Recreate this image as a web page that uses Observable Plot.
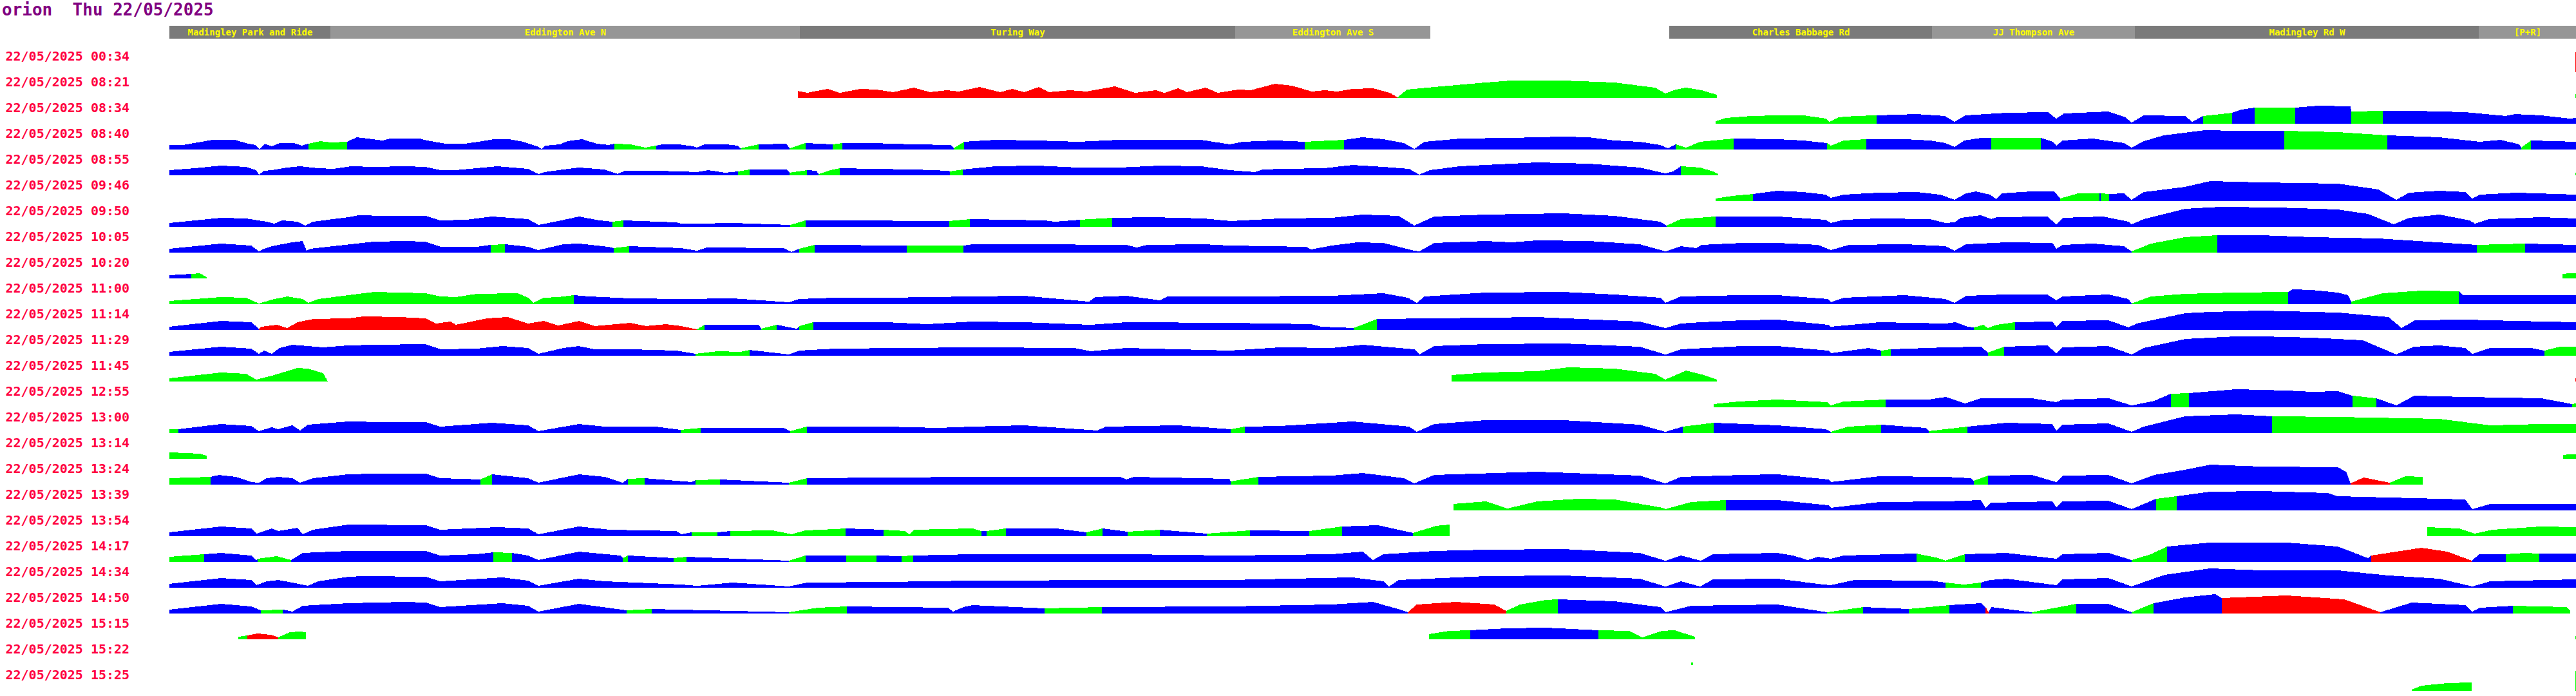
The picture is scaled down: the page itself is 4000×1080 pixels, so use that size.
<!DOCTYPE html>
<html><head><meta charset="utf-8">
<script src="https://cdn.jsdelivr.net/npm/d3@7"></script>
<script src="https://cdn.jsdelivr.net/npm/@observablehq/plot@0.6"></script>
<style>
body{margin:0;background:#fff;width:4000px;}
#title{height:40px;font:bold 26px/30px "DejaVu Sans Mono",monospace;color:#800080;white-space:pre;padding-left:3px;}
svg{display:block}
</style></head><body>
<div id="title">orion  Thu 22/05/2025</div>
<div id="header"></div>
<div id="chart"></div>
<script>
// ---- header: road sections along the route (distance units) ----
const roadNames = ["Madingley Park and Ride","Eddington Ave N","Turing Way","Eddington Ave S","Charles Babbage Rd","JJ Thompson Ave","Madingley Rd W","[P+R]"];
const roadStart = [263,513,1242,1918,2592,3000,3315,3849];
const roadEnd   = [513,1242,1918,2221,3000,3315,3849,4000];
const roadShade = ["#7a7a7a","#969696","#7a7a7a","#969696","#7a7a7a","#969696","#7a7a7a","#969696"];

// ---- journey start times ----
const labels = ["22/05/2025 00:34","22/05/2025 08:21","22/05/2025 08:34","22/05/2025 08:40","22/05/2025 08:55","22/05/2025 09:46","22/05/2025 09:50","22/05/2025 10:05","22/05/2025 10:20","22/05/2025 11:00","22/05/2025 11:14","22/05/2025 11:29","22/05/2025 11:45","22/05/2025 12:55","22/05/2025 13:00","22/05/2025 13:14","22/05/2025 13:24","22/05/2025 13:39","22/05/2025 13:54","22/05/2025 14:17","22/05/2025 14:34","22/05/2025 14:50","22/05/2025 15:15","22/05/2025 15:22","22/05/2025 15:25"];

// ---- profiles: [distance, value, status of the stretch that starts here] ----
const r0034 = [[3999,31,"r"],[4000,31,""]];
const r0821 = [[1239,11,"r"],[1253,8,"r"],[1285,14,"r"],[1304,8,"r"],[1336,14,"r"],[1361,13,"r"],[1387,9,"r"],[1419,16,"r"],[1444,9,"r"],[1470,12,"r"],[1489,10,"r"],[1521,17,"r"],[1553,9,"r"],[1572,14,"r"],[1591,9,"r"],[1613,17,"r"],[1629,9,"r"],[1661,12,"r"],[1687,10,"r"],[1731,18,"r"],[1763,8,"r"],[1795,12,"r"],[1808,8,"r"],[1830,15,"r"],[1843,9,"r"],[1872,16,"r"],[1891,8,"r"],[1923,13,"r"],[1942,12,"r"],[1980,22,"r"],[2006,19,"r"],[2037,10,"r"],[2057,12,"r"],[2076,10,"r"],[2100,14,"r"],[2132,15,"r"],[2158,8,"r"],[2170,1,"g"],[2185,13,"g"],[2227,17,"g"],[2307,24,"g"],[2347,27,"g"],[2427,27,"g"],[2507,24,"g"],[2570,16,"g"],[2586,7,"g"],[2602,13,"g"],[2618,16,"g"],[2642,12,"g"],[2666,5,""],[3999,6,"g"],[4000,6,""]];
const r0834 = [[2664,4,"g"],[2680,9,"g"],[2720,12,"g"],[2760,13,"g"],[2800,13,"g"],[2835,8,"g"],[2841,3,"g"],[2855,10,"g"],[2880,12,"g"],[2914,13,"b"],[2976,15,"b"],[3020,12,"b"],[3035,3,"b"],[3052,13,"b"],[3116,17,"b"],[3180,18,"b"],[3193,8,"b"],[3205,16,"b"],[3274,19,"b"],[3300,10,"b"],[3310,2,"b"],[3329,13,"b"],[3393,12,"b"],[3404,3,"b"],[3421,12,"g"],[3466,17,"b"],[3480,22,"b"],[3501,25,"g"],[3564,25,"b"],[3600,28,"b"],[3650,27,"b"],[3651,19,"g"],[3700,20,"b"],[3749,20,"b"],[3828,18,"b"],[3891,12,"b"],[3905,15,"b"],[3946,13,"b"],[3990,8,"b"],[4000,9,""]];
const r0840 = [[263,7,"b"],[284,7,"b"],[307,11,"b"],[330,15,"b"],[365,15,"b"],[382,10,"b"],[396,7,"b"],[403,0,"b"],[411,9,"b"],[422,5,"b"],[434,10,"b"],[457,10,"b"],[468,6,"b"],[479,9,"g"],[497,13,"g"],[514,11,"g"],[539,12,"b"],[554,19,"b"],[571,17,"b"],[594,14,"b"],[606,17,"b"],[652,17,"b"],[663,14,"b"],[692,9,"b"],[721,9,"b"],[749,13,"b"],[767,16,"b"],[790,16,"b"],[813,12,"b"],[836,4,"b"],[841,1,"b"],[847,6,"b"],[870,8,"b"],[881,13,"b"],[904,16,"b"],[927,9,"b"],[945,7,"b"],[954,9,"g"],[979,8,"g"],[1002,3,"g"],[1019,6,"b"],[1028,8,"b"],[1054,8,"b"],[1077,5,"b"],[1082,3,"b"],[1094,8,"b"],[1128,8,"b"],[1145,6,"b"],[1150,2,"g"],[1178,8,"b"],[1221,9,"b"],[1226,2,"g"],[1251,10,"b"],[1293,8,"g"],[1308,10,"b"],[1355,10,"b"],[1419,8,"b"],[1476,7,"b"],[1481,2,"g"],[1497,12,"b"],[1546,15,"b"],[1610,14,"b"],[1674,12,"b"],[1738,15,"b"],[1802,15,"b"],[1865,15,"b"],[1910,8,"b"],[1929,12,"b"],[1980,14,"b"],[2026,12,"g"],[2087,15,"b"],[2116,19,"b"],[2148,16,"b"],[2180,10,"b"],[2196,1,"b"],[2212,12,"b"],[2267,17,"b"],[2347,18,"b"],[2427,20,"b"],[2467,19,"b"],[2507,14,"b"],[2546,12,"b"],[2578,7,"b"],[2590,2,"b"],[2602,8,"g"],[2618,3,"g"],[2640,12,"g"],[2692,17,"b"],[2760,16,"b"],[2800,14,"b"],[2837,10,"g"],[2843,6,"g"],[2863,14,"g"],[2898,16,"b"],[2958,16,"b"],[2997,14,"b"],[3021,10,"b"],[3035,4,"b"],[3050,14,"b"],[3076,18,"b"],[3092,18,"g"],[3169,18,"b"],[3187,12,"b"],[3193,6,"b"],[3203,14,"b"],[3250,17,"b"],[3298,10,"b"],[3310,3,"b"],[3329,13,"b"],[3360,22,"b"],[3424,30,"b"],[3472,29,"b"],[3547,29,"g"],[3630,27,"g"],[3707,22,"b"],[3788,19,"b"],[3850,12,"b"],[3883,15,"b"],[3912,8,"b"],[3915,3,"g"],[3930,14,"b"],[4000,12,""]];
const r0855 = [[263,8,"b"],[303,11,"b"],[343,15,"b"],[382,13,"b"],[398,8,"b"],[402,1,"b"],[410,7,"b"],[422,8,"b"],[446,12,"b"],[466,14,"b"],[494,11,"b"],[517,10,"b"],[545,14,"b"],[581,13,"b"],[629,14,"b"],[661,13,"b"],[684,8,"b"],[708,8,"b"],[740,11,"b"],[772,14,"b"],[820,10,"b"],[836,2,"b"],[845,5,"b"],[875,9,"b"],[899,12,"b"],[939,9,"b"],[959,2,"b"],[970,7,"b"],[1018,7,"b"],[1058,6,"b"],[1082,5,"b"],[1100,8,"b"],[1126,4,"b"],[1146,6,"g"],[1164,9,"b"],[1221,9,"b"],[1226,4,"g"],[1253,8,"b"],[1268,7,"b"],[1271,2,"g"],[1290,8,"g"],[1304,11,"b"],[1355,10,"b"],[1419,9,"b"],[1473,7,"b"],[1475,6,"g"],[1495,9,"b"],[1546,14,"b"],[1610,15,"b"],[1674,12,"b"],[1738,12,"b"],[1802,15,"b"],[1865,14,"b"],[1910,8,"b"],[1948,5,"b"],[1960,9,"b"],[1993,10,"b"],[2057,11,"b"],[2100,16,"b"],[2148,13,"b"],[2188,10,"b"],[2204,1,"b"],[2220,8,"b"],[2267,14,"b"],[2387,20,"b"],[2467,18,"b"],[2546,12,"b"],[2586,3,"b"],[2598,6,"b"],[2610,14,"g"],[2640,12,"g"],[2660,6,"g"],[2668,2,""],[3999,4,"g"],[4000,4,""]];
const r0946 = [[2664,4,"g"],[2690,8,"g"],[2722,11,"b"],[2760,16,"b"],[2800,14,"b"],[2835,10,"b"],[2843,5,"b"],[2863,10,"b"],[2918,13,"b"],[2976,14,"b"],[3013,10,"b"],[3035,2,"b"],[3053,12,"b"],[3068,15,"b"],[3090,10,"b"],[3100,3,"b"],[3108,12,"b"],[3155,15,"b"],[3190,15,"b"],[3199,4,"g"],[3227,12,"g"],[3260,12,"b"],[3262,12,"g"],[3275,11,"b"],[3298,12,"b"],[3310,2,"b"],[3329,14,"b"],[3393,22,"b"],[3432,31,"b"],[3511,29,"b"],[3630,27,"b"],[3693,18,"b"],[3721,2,"b"],[3741,13,"b"],[3788,16,"b"],[3828,14,"b"],[3839,4,"b"],[3851,10,"b"],[3907,13,"b"],[4000,10,""]];
const r0950 = [[263,6,"b"],[343,14,"b"],[382,13,"b"],[414,8,"b"],[426,5,"b"],[438,10,"b"],[462,8,"b"],[474,2,"b"],[486,8,"b"],[541,15,"b"],[557,18,"b"],[597,17,"b"],[661,17,"b"],[684,10,"b"],[724,11,"b"],[764,16,"b"],[820,12,"b"],[836,3,"b"],[867,9,"b"],[899,16,"b"],[931,10,"b"],[951,8,"g"],[968,10,"b"],[1050,7,"b"],[1058,5,"b"],[1082,5,"b"],[1138,6,"b"],[1227,3,"g"],[1251,10,"b"],[1297,10,"b"],[1474,9,"g"],[1506,12,"b"],[1622,10,"b"],[1638,8,"b"],[1677,11,"g"],[1727,14,"b"],[1789,15,"b"],[1869,13,"b"],[1911,9,"b"],[1988,13,"b"],[2068,14,"b"],[2116,19,"b"],[2172,17,"b"],[2196,2,"b"],[2227,16,"b"],[2307,19,"b"],[2427,21,"b"],[2507,17,"b"],[2578,8,"b"],[2588,2,"g"],[2610,12,"g"],[2664,16,"b"],[2760,16,"b"],[2835,11,"b"],[2843,6,"b"],[2863,11,"b"],[2918,13,"b"],[2997,12,"b"],[3021,6,"b"],[3035,7,"b"],[3045,14,"b"],[3076,18,"b"],[3092,12,"b"],[3100,15,"b"],[3179,16,"b"],[3193,4,"b"],[3203,14,"b"],[3266,16,"b"],[3305,8,"b"],[3310,4,"b"],[3329,12,"b"],[3393,28,"b"],[3448,31,"b"],[3535,30,"b"],[3630,27,"b"],[3677,20,"b"],[3717,4,"b"],[3741,14,"b"],[3788,19,"b"],[3835,10,"b"],[3843,5,"b"],[3865,12,"b"],[3946,15,"b"],[4000,13,""]];
const r1005 = [[263,6,"b"],[343,14,"b"],[390,11,"b"],[402,2,"b"],[410,6,"b"],[422,10,"b"],[454,16,"b"],[470,18,"b"],[476,3,"b"],[482,6,"b"],[517,10,"b"],[581,17,"b"],[629,18,"b"],[661,17,"b"],[684,9,"b"],[740,9,"b"],[762,12,"g"],[784,13,"b"],[820,9,"b"],[836,4,"b"],[875,13,"b"],[899,14,"b"],[945,9,"b"],[953,7,"g"],[977,10,"b"],[1058,7,"b"],[1082,3,"b"],[1098,8,"b"],[1217,7,"b"],[1229,1,"b"],[1241,6,"g"],[1265,12,"b"],[1408,11,"g"],[1496,11,"b"],[1510,13,"b"],[1590,13,"b"],[1749,12,"b"],[1765,8,"b"],[1781,12,"b"],[1869,13,"b"],[1909,11,"b"],[2028,9,"b"],[2036,5,"b"],[2068,11,"b"],[2108,16,"b"],[2148,15,"b"],[2196,3,"b"],[2204,2,"b"],[2227,15,"b"],[2307,18,"b"],[2347,16,"b"],[2387,19,"b"],[2467,18,"b"],[2546,13,"b"],[2586,2,"b"],[2610,10,"b"],[2634,7,"b"],[2642,12,"b"],[2706,15,"b"],[2760,15,"b"],[2823,12,"b"],[2843,4,"b"],[2871,12,"b"],[2958,13,"b"],[3021,10,"b"],[3035,3,"b"],[3053,13,"b"],[3116,16,"b"],[3187,15,"b"],[3193,6,"b"],[3203,12,"b"],[3250,14,"b"],[3298,10,"b"],[3310,2,"g"],[3340,14,"g"],[3393,24,"g"],[3443,27,"b"],[3511,27,"b"],[3590,24,"b"],[3693,22,"b"],[3846,12,"g"],[3921,14,"b"],[4000,12,""]];
const r1020 = [[263,5,"b"],[280,6,"b"],[297,7,"g"],[310,8,"g"],[321,2,""],[3979,7,"g"],[3990,8,"g"],[4000,8,""]];
const r1100 = [[263,5,"g"],[343,11,"g"],[382,10,"g"],[402,1,"g"],[422,7,"g"],[446,12,"g"],[470,8,"g"],[479,2,"g"],[494,8,"g"],[541,14,"g"],[581,19,"g"],[621,18,"g"],[661,17,"g"],[684,12,"g"],[708,11,"g"],[740,16,"g"],[804,17,"g"],[820,10,"g"],[828,2,"g"],[844,10,"g"],[867,11,"g"],[891,14,"b"],[915,12,"b"],[979,9,"b"],[1058,8,"b"],[1138,9,"b"],[1225,3,"b"],[1241,8,"b"],[1297,10,"b"],[1376,10,"b"],[1510,12,"b"],[1590,13,"b"],[1691,4,"b"],[1701,11,"b"],[1749,13,"b"],[1801,6,"b"],[1813,12,"b"],[1909,12,"b"],[2068,13,"b"],[2148,17,"b"],[2186,10,"b"],[2200,2,"b"],[2212,12,"b"],[2307,18,"b"],[2427,19,"b"],[2507,15,"b"],[2578,10,"b"],[2586,2,"b"],[2610,12,"b"],[2706,14,"b"],[2760,14,"b"],[2839,8,"b"],[2843,3,"b"],[2863,10,"b"],[2958,14,"b"],[3021,8,"b"],[3035,2,"b"],[3053,13,"b"],[3116,15,"b"],[3179,15,"b"],[3193,6,"b"],[3203,12,"b"],[3274,15,"b"],[3305,8,"b"],[3310,1,"g"],[3340,12,"g"],[3393,16,"g"],[3470,18,"g"],[3553,19,"b"],[3560,23,"b"],[3590,22,"b"],[3630,18,"b"],[3646,14,"b"],[3651,4,"g"],[3700,17,"g"],[3760,21,"g"],[3818,20,"b"],[3825,14,"b"],[4000,14,""]];
const r1114 = [[263,5,"b"],[343,14,"b"],[390,12,"b"],[402,2,"r"],[406,5,"r"],[430,8,"r"],[446,3,"r"],[462,12,"r"],[486,17,"r"],[541,18,"r"],[565,21,"r"],[621,20,"r"],[661,18,"r"],[677,10,"r"],[700,13,"r"],[708,8,"r"],[756,18,"r"],[788,20,"r"],[820,10,"r"],[844,14,"r"],[867,7,"r"],[899,14,"r"],[923,6,"r"],[979,11,"r"],[1003,6,"r"],[1034,9,"r"],[1058,6,"r"],[1082,1,"g"],[1094,8,"b"],[1178,8,"b"],[1182,2,"g"],[1206,8,"b"],[1237,2,"b"],[1241,6,"g"],[1263,12,"b"],[1376,12,"b"],[1440,9,"b"],[1510,13,"b"],[1590,12,"b"],[1693,8,"b"],[1749,12,"b"],[1909,11,"b"],[2036,9,"b"],[2052,5,"b"],[2102,3,"g"],[2138,17,"b"],[2227,18,"b"],[2387,20,"b"],[2546,13,"b"],[2586,3,"b"],[2610,10,"b"],[2642,12,"b"],[2706,15,"b"],[2760,16,"b"],[2839,8,"b"],[2843,5,"b"],[2918,12,"b"],[3021,10,"b"],[3037,12,"b"],[3055,5,"b"],[3065,4,"g"],[3080,8,"g"],[3087,3,"g"],[3100,8,"g"],[3129,12,"b"],[3187,13,"b"],[3193,5,"b"],[3203,14,"b"],[3274,15,"b"],[3305,4,"b"],[3318,10,"b"],[3393,26,"b"],[3432,28,"b"],[3511,30,"b"],[3630,27,"b"],[3709,20,"b"],[3729,3,"b"],[3750,15,"b"],[3828,16,"b"],[3907,14,"b"],[4000,12,""]];
const r1129 = [[263,6,"b"],[343,14,"b"],[390,11,"b"],[402,3,"b"],[410,8,"b"],[422,3,"b"],[434,12,"b"],[454,17,"b"],[502,13,"b"],[541,16,"b"],[581,17,"b"],[661,18,"b"],[684,10,"b"],[740,11,"b"],[780,15,"b"],[820,12,"b"],[836,3,"b"],[875,12,"b"],[899,15,"b"],[923,10,"b"],[979,10,"b"],[1050,8,"b"],[1080,3,"g"],[1114,7,"g"],[1150,6,"g"],[1164,9,"b"],[1225,2,"b"],[1241,8,"b"],[1297,11,"b"],[1510,13,"b"],[1669,12,"b"],[1693,7,"b"],[1749,12,"b"],[1909,8,"b"],[1988,13,"b"],[2068,12,"b"],[2116,17,"b"],[2196,10,"b"],[2204,2,"b"],[2227,15,"b"],[2307,18,"b"],[2427,19,"b"],[2546,14,"b"],[2586,2,"b"],[2610,10,"b"],[2706,15,"b"],[2760,15,"b"],[2839,8,"b"],[2843,4,"b"],[2902,12,"b"],[2921,8,"g"],[2936,10,"b"],[3021,13,"b"],[3076,14,"b"],[3087,5,"g"],[3112,14,"b"],[3179,16,"b"],[3193,4,"b"],[3203,13,"b"],[3274,15,"b"],[3310,2,"b"],[3329,12,"b"],[3393,26,"b"],[3472,30,"b"],[3511,30,"b"],[3590,28,"b"],[3669,24,"b"],[3721,2,"b"],[3748,14,"b"],[3788,16,"b"],[3828,12,"b"],[3839,3,"b"],[3867,12,"b"],[3930,12,"b"],[3951,8,"g"],[3975,14,"g"],[4000,14,""]];
const r1145 = [[263,5,"g"],[343,14,"g"],[382,12,"g"],[398,3,"g"],[422,9,"g"],[462,21,"g"],[478,20,"g"],[502,13,"g"],[509,0,""],[2254,10,"g"],[2307,14,"g"],[2387,16,"g"],[2435,22,"g"],[2507,20,"g"],[2570,12,"g"],[2586,3,"g"],[2618,17,"g"],[2642,11,"g"],[2666,3,""],[3999,5,"r"],[4000,5,""]];
const r1255 = [[2661,5,"g"],[2700,9,"g"],[2760,12,"g"],[2837,8,"g"],[2843,3,"g"],[2863,9,"g"],[2928,12,"b"],[2995,12,"b"],[3021,16,"b"],[3051,6,"b"],[3076,14,"b"],[3155,14,"b"],[3193,8,"b"],[3203,12,"b"],[3274,14,"b"],[3310,3,"b"],[3345,10,"b"],[3371,21,"g"],[3399,22,"b"],[3472,28,"b"],[3551,26,"b"],[3590,24,"b"],[3630,25,"b"],[3653,18,"g"],[3690,14,"b"],[3721,3,"b"],[3749,18,"b"],[3828,16,"b"],[3946,14,"b"],[3994,5,"g"],[4000,6,""]];
const r1300 = [[263,6,"g"],[277,6,"b"],[343,14,"b"],[390,11,"b"],[402,3,"b"],[422,9,"b"],[432,6,"b"],[454,12,"b"],[466,4,"b"],[478,13,"b"],[541,18,"b"],[597,17,"b"],[661,17,"b"],[684,10,"b"],[764,16,"b"],[820,12,"b"],[836,3,"b"],[899,14,"b"],[939,10,"b"],[1018,10,"b"],[1057,5,"g"],[1088,8,"b"],[1217,8,"b"],[1227,3,"g"],[1253,10,"b"],[1376,10,"b"],[1456,8,"b"],[1510,10,"b"],[1590,12,"b"],[1704,4,"b"],[1717,10,"b"],[1829,12,"b"],[1911,6,"g"],[1933,10,"b"],[1988,11,"b"],[2100,18,"b"],[2188,10,"b"],[2200,2,"b"],[2227,14,"b"],[2307,20,"b"],[2427,20,"b"],[2546,13,"b"],[2586,2,"b"],[2613,10,"g"],[2661,16,"b"],[2760,12,"b"],[2835,6,"b"],[2843,2,"g"],[2870,10,"g"],[2921,13,"b"],[2990,8,"b"],[2995,3,"g"],[3055,10,"b"],[3116,16,"b"],[3187,14,"b"],[3193,4,"b"],[3203,13,"b"],[3274,15,"b"],[3310,2,"b"],[3329,10,"b"],[3393,26,"b"],[3472,29,"b"],[3528,26,"g"],[3630,25,"g"],[3788,22,"g"],[3867,12,"g"],[3946,14,"g"],[4000,14,""]];
const r1314 = [[263,10,"g"],[290,9,"g"],[310,8,"g"],[321,5,""],[3980,6,"g"],[3990,7,"g"],[4000,7,""]];
const r1324 = [[263,10,"g"],[327,12,"b"],[340,15,"b"],[366,12,"b"],[390,4,"b"],[402,3,"b"],[414,10,"b"],[432,12,"b"],[454,10,"b"],[466,3,"b"],[486,10,"b"],[541,16,"b"],[581,17,"b"],[661,17,"b"],[684,10,"b"],[746,8,"g"],[764,16,"b"],[820,10,"b"],[836,3,"b"],[899,16,"b"],[939,12,"b"],[967,3,"b"],[975,9,"g"],[1001,10,"b"],[1074,4,"b"],[1080,7,"g"],[1118,8,"b"],[1225,3,"g"],[1253,10,"b"],[1510,12,"b"],[1740,12,"b"],[1749,8,"b"],[1760,12,"b"],[1909,9,"b"],[1911,5,"g"],[1954,12,"b"],[2068,14,"b"],[2116,18,"b"],[2180,10,"b"],[2196,2,"b"],[2227,15,"b"],[2387,20,"b"],[2546,14,"b"],[2586,2,"b"],[2610,12,"b"],[2706,15,"b"],[2760,16,"b"],[2839,8,"b"],[2843,4,"b"],[2918,13,"b"],[3021,12,"b"],[3060,10,"b"],[3065,6,"g"],[3087,14,"b"],[3155,15,"b"],[3193,4,"b"],[3203,14,"b"],[3274,15,"b"],[3310,2,"b"],[3345,15,"b"],[3393,23,"b"],[3432,31,"b"],[3511,28,"b"],[3630,27,"b"],[3643,20,"b"],[3650,2,"r"],[3670,11,"r"],[3711,3,"g"],[3735,13,"g"],[3762,12,""]];
const r1339 = [[2257,10,"g"],[2307,14,"g"],[2341,3,"g"],[2387,14,"g"],[2451,18,"g"],[2507,17,"g"],[2582,4,"g"],[2586,2,"g"],[2626,13,"g"],[2680,16,"b"],[2760,16,"b"],[2839,8,"b"],[2843,4,"b"],[2918,13,"b"],[3021,14,"b"],[3076,16,"b"],[3083,4,"b"],[3092,12,"b"],[3187,14,"b"],[3193,5,"b"],[3203,14,"b"],[3274,15,"b"],[3310,2,"b"],[3348,18,"g"],[3380,22,"b"],[3432,29,"b"],[3511,30,"b"],[3614,27,"b"],[3630,22,"b"],[3828,17,"b"],[3839,2,"b"],[3867,10,"b"],[4000,10,""]];
const r1354 = [[263,6,"b"],[343,15,"b"],[390,12,"b"],[398,4,"b"],[422,12,"b"],[432,8,"b"],[462,13,"b"],[470,3,"b"],[486,10,"b"],[541,18,"b"],[661,17,"b"],[684,10,"b"],[772,14,"b"],[820,12,"b"],[836,3,"b"],[899,15,"b"],[947,10,"b"],[1050,8,"b"],[1058,3,"b"],[1074,6,"g"],[1114,6,"b"],[1134,8,"g"],[1200,9,"g"],[1229,3,"g"],[1251,9,"g"],[1297,11,"g"],[1313,12,"b"],[1372,10,"g"],[1405,8,"g"],[1412,3,"g"],[1420,10,"g"],[1510,12,"g"],[1524,8,"b"],[1532,8,"g"],[1562,12,"b"],[1640,12,"b"],[1687,6,"g"],[1712,12,"b"],[1751,7,"g"],[1801,10,"b"],[1874,4,"g"],[1941,9,"b"],[2033,8,"g"],[2084,15,"b"],[2140,17,"b"],[2194,5,"g"],[2230,16,"g"],[2251,18,""],[3769,14,"g"],[3818,12,"g"],[3843,4,"g"],[3870,10,"g"],[3946,15,"g"],[4000,14,""]];
const r1417 = [[263,8,"g"],[317,12,"b"],[343,14,"b"],[390,10,"b"],[398,3,"b"],[400,5,"g"],[430,9,"g"],[452,3,"b"],[470,14,"b"],[541,17,"b"],[661,17,"b"],[684,10,"b"],[740,12,"b"],[766,15,"g"],[795,14,"b"],[820,10,"b"],[836,3,"b"],[899,16,"b"],[963,10,"b"],[967,6,"g"],[975,10,"b"],[1046,6,"g"],[1066,8,"b"],[1225,2,"g"],[1251,10,"b"],[1314,10,"g"],[1361,10,"b"],[1400,9,"g"],[1418,10,"b"],[1510,12,"b"],[1749,12,"b"],[1909,10,"b"],[2068,12,"b"],[2116,16,"b"],[2132,3,"b"],[2148,12,"b"],[2227,17,"b"],[2307,19,"b"],[2427,20,"b"],[2546,14,"b"],[2586,2,"b"],[2610,10,"b"],[2641,2,"b"],[2660,12,"b"],[2760,14,"b"],[2784,10,"b"],[2807,3,"b"],[2823,8,"b"],[2843,5,"b"],[2863,10,"b"],[2976,13,"g"],[3010,6,"g"],[3021,2,"g"],[3051,12,"b"],[3116,14,"b"],[3193,5,"b"],[3203,12,"b"],[3274,14,"b"],[3310,3,"g"],[3340,12,"g"],[3365,24,"b"],[3432,30,"b"],[3551,30,"b"],[3630,24,"b"],[3677,6,"b"],[3682,10,"r"],[3760,22,"r"],[3800,16,"r"],[3838,2,"b"],[3850,12,"b"],[3891,12,"g"],[3920,14,"g"],[3943,13,"b"],[4000,13,""]];
const r1434 = [[263,6,"b"],[343,15,"b"],[390,12,"b"],[398,4,"b"],[414,10,"b"],[432,12,"b"],[454,8,"b"],[478,3,"b"],[494,10,"b"],[541,17,"b"],[565,18,"b"],[661,17,"b"],[684,10,"b"],[780,16,"b"],[820,11,"b"],[836,3,"b"],[899,14,"b"],[939,10,"b"],[1058,5,"b"],[1082,3,"b"],[1138,8,"b"],[1225,2,"b"],[1253,8,"b"],[1376,9,"b"],[1510,11,"b"],[1749,12,"b"],[1909,12,"b"],[2100,16,"b"],[2148,10,"b"],[2157,2,"b"],[2172,12,"b"],[2307,18,"b"],[2427,19,"b"],[2546,14,"b"],[2586,2,"b"],[2610,10,"b"],[2640,2,"b"],[2660,13,"b"],[2760,14,"b"],[2831,5,"b"],[2843,4,"b"],[2879,12,"b"],[2997,11,"b"],[3021,8,"g"],[3050,5,"g"],[3076,8,"b"],[3090,12,"b"],[3116,14,"b"],[3193,4,"b"],[3203,13,"b"],[3274,15,"b"],[3310,2,"b"],[3361,20,"b"],[3432,30,"b"],[3511,27,"b"],[3630,27,"b"],[3709,19,"b"],[3788,14,"b"],[3839,2,"b"],[3867,10,"b"],[4000,13,""]];
const r1450 = [[263,6,"b"],[343,15,"b"],[390,11,"b"],[405,5,"g"],[439,6,"b"],[454,3,"b"],[470,12,"b"],[541,16,"b"],[629,18,"b"],[661,17,"b"],[684,10,"b"],[780,16,"b"],[820,12,"b"],[836,3,"b"],[899,15,"b"],[973,5,"g"],[1012,7,"b"],[1225,2,"g"],[1270,9,"g"],[1315,11,"b"],[1472,9,"b"],[1480,3,"b"],[1496,10,"b"],[1510,13,"b"],[1622,8,"g"],[1711,10,"b"],[1909,11,"b"],[2068,14,"b"],[2132,18,"b"],[2178,5,"b"],[2186,2,"r"],[2200,14,"r"],[2260,18,"r"],[2320,14,"r"],[2339,4,"g"],[2360,14,"g"],[2400,21,"g"],[2419,22,"b"],[2507,19,"b"],[2578,10,"b"],[2586,2,"b"],[2626,12,"b"],[2760,14,"b"],[2837,2,"g"],[2893,10,"b"],[2964,7,"g"],[3027,13,"b"],[3076,16,"b"],[3083,10,"r"],[3088,2,"b"],[3092,10,"b"],[3155,2,"g"],[3224,15,"b"],[3274,15,"b"],[3310,2,"g"],[3344,16,"b"],[3393,25,"b"],[3440,30,"b"],[3450,24,"r"],[3550,28,"r"],[3640,22,"r"],[3696,2,"b"],[3745,17,"b"],[3828,13,"b"],[3839,3,"b"],[3851,9,"b"],[3902,12,"g"],[3985,10,"g"],[3991,5,""]];
const r1515 = [[370,4,"g"],[384,6,"r"],[400,9,"r"],[420,7,"r"],[432,3,"g"],[450,11,"g"],[465,12,"g"],[475,11,""],[2219,8,"g"],[2250,13,"g"],[2283,14,"b"],[2340,17,"b"],[2400,18,"b"],[2482,14,"g"],[2530,13,"g"],[2550,3,"g"],[2580,13,"g"],[2600,14,"g"],[2632,4,""],[3999,5,"g"],[4000,5,""]];
const r1522 = [[2626,4,"g"],[2629,4,""]];
const r1525 = [[3745,2,"g"],[3760,8,"g"],[3800,12,"g"],[3838,13,""],[3999,31,"g"],[4000,31,""]];

const profiles = [r0034,r0821,r0834,r0840,r0855,r0946,r0950,r1005,r1020,r1100,r1114,r1129,r1145,r1255,r1300,r1314,r1324,r1339,r1354,r1417,r1434,r1450,r1515,r1522,r1525];
const statusColor = {b: "#0000ff", g: "#00ff00", r: "#ff0000"};

// build one area series per run of equal status (boundary points shared)
const flat = [];
let sid = 0;
profiles.forEach((pts, k) => {
  const label = labels[k];
  let prev = null;
  for (let i = 0; i + 1 < pts.length; i++) {
    const c = pts[i][2];
    if (!c) { prev = null; continue; }
    if (c !== prev) { sid++; flat.push({label, seg: sid, x: pts[i][0], h: pts[i][1], c}); }
    flat.push({label, seg: sid, x: pts[i + 1][0], h: pts[i + 1][1], c});
    prev = c;
  }
});

const roads = roadNames.map((name, i) => ({name, x1: roadStart[i], x2: roadEnd[i], shade: roadShade[i]}));

const header = Plot.plot({
  width: 4000, height: 20,
  marginLeft: 263, marginRight: 0, marginTop: 0, marginBottom: 0,
  x: {domain: [263, 4000], axis: null},
  color: {type: "identity"},
  marks: [
    Plot.rect(roads, {x1: "x1", x2: "x2", fill: "shade", shapeRendering: "crispEdges"}),
    Plot.text(roads, {x: d => (d.x1 + d.x2) / 2, text: "name", frameAnchor: "middle", fill: "#ffff00", fontSize: 14, fontWeight: "bold", fontFamily: "DejaVu Sans Mono"})
  ]
});
document.getElementById("header").appendChild(header);

const chart = Plot.plot({
  width: 4000, height: 1020,
  marginLeft: 263, marginRight: 0, marginTop: 12, marginBottom: 8,
  x: {domain: [263, 4000], axis: null},
  y: {domain: [0, 40], axis: null},
  fy: {domain: labels, axis: null, padding: 0},
  color: {type: "identity"},
  marks: [
    Plot.areaY(flat, {x: "x", y1: 0, y2: "h", z: "seg", fill: d => statusColor[d.c], fy: "label", shapeRendering: "crispEdges"}),
    Plot.text(labels, {fy: d => d, text: d => d, frameAnchor: "top-left", dx: -255, dy: 15.5, lineAnchor: "middle", textAnchor: "start", fill: "#ff0040", fontSize: 20, fontWeight: "bold", fontFamily: "DejaVu Sans Mono"})
  ]
});
document.getElementById("chart").appendChild(chart);
</script>
</body></html>
